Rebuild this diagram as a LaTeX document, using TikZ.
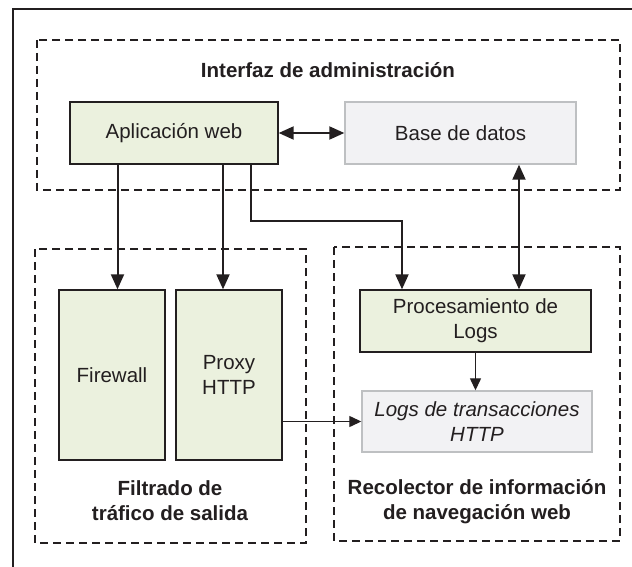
\documentclass[tikz,border=0pt]{standalone}
\usepackage{fontspec}
\setmainfont{Liberation Sans}
\usetikzlibrary{arrows.meta}
\definecolor{gfill}{RGB}{235,241,222}
\definecolor{dfill}{RGB}{242,242,244}
\definecolor{dborder}{RGB}{190,192,194}
\definecolor{ink}{RGB}{35,31,32}
\begin{document}
\begin{tikzpicture}[x=1pt,y=-1pt,
  every node/.style={font=\fontsize{20.5}{25}\selectfont, text=ink},
  gbox/.style={draw=ink, line width=1.4pt, fill=gfill, inner sep=0pt, align=center},
  dbox/.style={draw=dborder, line width=1.4pt, fill=dfill, inner sep=0pt, align=center, text=ink},
  group/.style={draw=ink, line width=1.2pt, dash pattern=on 8pt off 5pt},
  title/.style={font=\fontsize{20.5}{25}\bfseries\selectfont, align=center},
  arr/.style={draw=ink, line width=2pt, -{Triangle[length=15pt,width=13pt]}},
  arrb/.style={draw=ink, line width=2pt, {Triangle[length=15pt,width=13pt]}-{Triangle[length=15pt,width=13pt]}},
  arrt/.style={draw=ink, line width=1.3pt, -{Triangle[length=12pt,width=11pt]}}
]
\useasboundingbox (0,0) rectangle (632,567);
\clip (0,0) rectangle (632,567);
\fill[white] (0,0) rectangle (632,567);
% outer frame
\draw[ink, line width=1.5pt] (13,9) rectangle (660,600);
% groups
\draw[group] (37,40) rectangle (620,190);
\draw[group] (35,249) rectangle (306,543);
\draw[group] (334,247) rectangle (620,541);
% titles
\node[title] (t1) at (328,70) {Interfaz de administración};
\node[title] (t2) at (170,501) {Filtrado de\\tráfico de salida};
\node[title] (t3) at (477,502) {Recolector de información\\de navegación web};
% boxes
\node[gbox, minimum width=208pt, minimum height=62pt] (app) at (174,133) {Aplicación web};
\node[dbox, minimum width=231pt, minimum height=62pt] (db) at (460.5,133) {Base de datos};
\node[gbox, minimum width=106pt, minimum height=170pt] (fw) at (112,375) {Firewall};
\node[gbox, minimum width=106pt, minimum height=170pt] (px) at (229,375) {Proxy\\HTTP};
\node[gbox, minimum width=231pt, minimum height=62pt] (proc) at (475.5,321) {Procesamiento de\\Logs};
\node[dbox, minimum width=230pt, minimum height=61pt] (logs) at (477,421.5) {\itshape Logs de transacciones\\\itshape HTTP};
% connectors
\coordinate (c1) at (251,221);
\coordinate (c2) at (402,221);
\draw[arrb] (app.east) -- (db.west);
\draw[arr] ([xshift=5.5pt]fw.north |- app.south) -- ([xshift=5.5pt]fw.north);
\draw[arr] ([xshift=-6pt]px.north |- app.south) -- ([xshift=-6pt]px.north);
\draw[arr] (c1 |- app.south) -- (c1) -- (c2) -- (c2 |- proc.north);
\draw[arrb] ([xshift=58.5pt]db.south) -- ([xshift=58.5pt]db.south |- proc.north);
\draw[arrt] (proc.south) -- (proc.south |- logs.north);
\draw[arrt] (px.east |- logs.west) -- (logs.west);
\end{tikzpicture}
\end{document}
